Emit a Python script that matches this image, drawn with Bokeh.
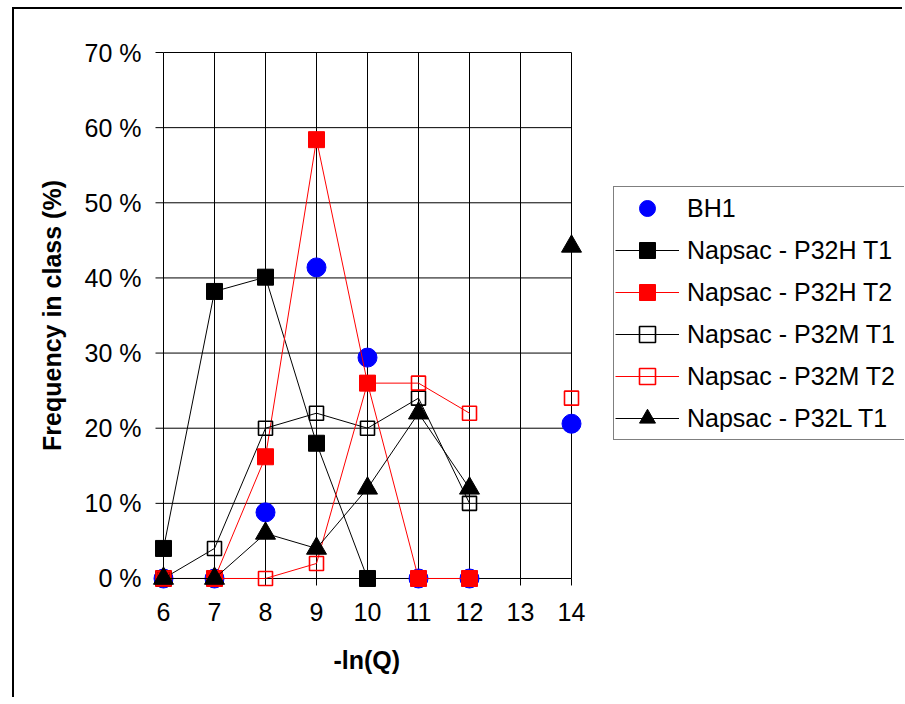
import math
from bokeh.plotting import figure
from bokeh.models import Legend, LegendItem, PrintfTickFormatter, FixedTicker, Title
from bokeh.embed import file_html
from bokeh.resources import INLINE

nan = float("nan")

# ---- data ----
x_classes = [6, 7, 8, 9, 10, 11, 12, 13, 14]
bh1     = [0, 0, 8.8, 41.4, 29.4, 0, 0, nan, 20.6]
p32h_t1 = [4, 38.2, 40.1, 18, 0, nan, nan, nan, nan]
p32h_t2 = [0, 0, 16.2, 58.4, 26, 0, 0, nan, nan]
p32m_t1 = [0, 4, 20, 22, 20, 24, 10, nan, nan]
p32m_t2 = [0, 0, 0, 2, 26, 26, 22, nan, 24]
p32l_t1 = [0, 0, 6, 4, 12, 22, 12, nan, 44.2]
y_ticks = [0, 10, 20, 30, 40, 50, 60, 70]
x_label = "-ln(Q)"
y_label = "Frequency in class (%)"

FONT = "Liberation Sans"
FS = "25px"

x_min, x_max = x_classes[0], x_classes[-1]
y_min, y_max = y_ticks[0], y_ticks[-1]
px_x = 51.0     # pixels per x unit
px_y = 7.514    # pixels per y unit
pad = 20        # pixels of padding around data area

W, H = 890, 690
fl, ft = 129, 23
fw = W - fl                       # frame reaches right edge (room for legend)
x_range = (x_min - pad / px_x, x_min - pad / px_x + fw / px_x)
y_range = (y_min - pad / px_y, y_max + pad / px_y)
fh = int(round((y_range[1] - y_range[0]) * px_y))

p = figure(width=W, height=H, x_range=x_range, y_range=y_range,
           output_backend="svg", toolbar_location=None,
           min_border_left=fl, min_border_top=ft,
           min_border_right=0, min_border_bottom=H - ft - fh)
p.margin = (7, 0, 0, 12)
p.styles = {"border-left": "2px solid black", "border-top": "2px solid black"}
p.outline_line_color = None
p.grid.visible = False
p.background_fill_color = "white"
p.border_fill_color = "white"

# grid lines limited to data area (these include the axis lines at 0 and at 6)
p.segment(x0=x_classes, y0=[y_min] * len(x_classes), x1=x_classes, y1=[y_max] * len(x_classes),
          line_color="black", line_width=1)
p.segment(x0=[x_min] * len(y_ticks), y0=y_ticks, x1=[x_max] * len(y_ticks), y1=y_ticks,
          line_color="black", line_width=1)
# outward tick marks
ytick_len = 8 / px_x
xtick_len = 7 / px_y
p.segment(x0=[x_min - ytick_len] * len(y_ticks), y0=y_ticks, x1=[x_min] * len(y_ticks), y1=y_ticks,
          line_color="black", line_width=1)
p.segment(x0=x_classes, y0=[y_min - xtick_len] * len(x_classes), x1=x_classes, y1=[y_min] * len(x_classes),
          line_color="black", line_width=1)

# axes (labels only)
xa = p.xaxis[0]
ya = p.yaxis[0]
xa.ticker = FixedTicker(ticks=x_classes)
ya.ticker = FixedTicker(ticks=y_ticks)
xa.bounds = (x_min, x_max)
ya.bounds = (y_min, y_max)
ya.formatter = PrintfTickFormatter(format="%d %%")
for ax in (xa, ya):
    ax.axis_line_color = None
    ax.major_tick_line_color = None
    ax.major_tick_in = 0
    ax.major_tick_out = 0
    ax.minor_tick_line_color = None
    ax.major_label_text_font = FONT
    ax.major_label_text_font_size = FS
    ax.major_label_text_color = "black"
    ax.axis_label_text_font = FONT
    ax.axis_label_text_font_size = FS
    ax.axis_label_text_font_style = "bold"
    ax.axis_label_text_color = "black"
xa.major_label_standoff = 4
ya.major_label_standoff = 2
ya.axis_label = y_label
ya.axis_label_standoff = 16

# x-axis title, centred under the data area
xt = Title(text=x_label, align="left", offset=190, standoff=44, vertical_align="top",
           text_font=FONT, text_font_size=FS, text_font_style="bold", text_color="black")
p.add_layout(xt, "below")

# series
r_bh1 = p.scatter(x_classes, bh1, marker="circle", size=19, fill_color="blue", line_color="blue")

l_h1 = p.line(x_classes, p32h_t1, line_color="black", line_width=1)
m_h1 = p.scatter(x_classes, p32h_t1, marker="square", size=16, fill_color="black", line_color="black")

l_h2 = p.line(x_classes, p32h_t2, line_color="red", line_width=1)
m_h2 = p.scatter(x_classes, p32h_t2, marker="square", size=16, fill_color="red", line_color="red")

l_m1 = p.line(x_classes, p32m_t1, line_color="black", line_width=1)
m_m1 = p.scatter(x_classes, p32m_t1, marker="square", size=14, fill_color=None, line_color="black", line_width=1.6)

l_m2 = p.line(x_classes, p32m_t2, line_color="red", line_width=1)
m_m2 = p.scatter(x_classes, p32m_t2, marker="square", size=14, fill_color=None, line_color="red", line_width=1.6)

l_l1 = p.line(x_classes, p32l_t1, line_color="black", line_width=1)
m_l1 = p.scatter(x_classes, p32l_t1, marker="triangle", size=20, fill_color="black", line_color="black")

items = [
    LegendItem(label="BH1", renderers=[r_bh1]),
    LegendItem(label="Napsac - P32H T1", renderers=[l_h1, m_h1]),
    LegendItem(label="Napsac - P32H T2", renderers=[l_h2, m_h2]),
    LegendItem(label="Napsac - P32M T1", renderers=[l_m1, m_m1]),
    LegendItem(label="Napsac - P32M T2", renderers=[l_m2, m_m2]),
    LegendItem(label="Napsac - P32L T1", renderers=[l_l1, m_l1]),
]
frame_bottom = ft + fh
leg_left, leg_top, leg_h = 613 - 14, 188 - 9, 252
legend = Legend(items=items, location=(leg_left - fl, frame_bottom - (leg_top + leg_h)),
                label_text_font=FONT, label_text_font_size=FS, label_text_color="black",
                glyph_width=64, glyph_height=40, label_height=20, label_width=250,
                label_standoff=8, spacing=2, padding=1, margin=0,
                border_line_color="black", border_line_width=1,
                background_fill_color="white", background_fill_alpha=1)
p.add_layout(legend, "center")

open("out.html", "w").write(file_html(p, INLINE))
